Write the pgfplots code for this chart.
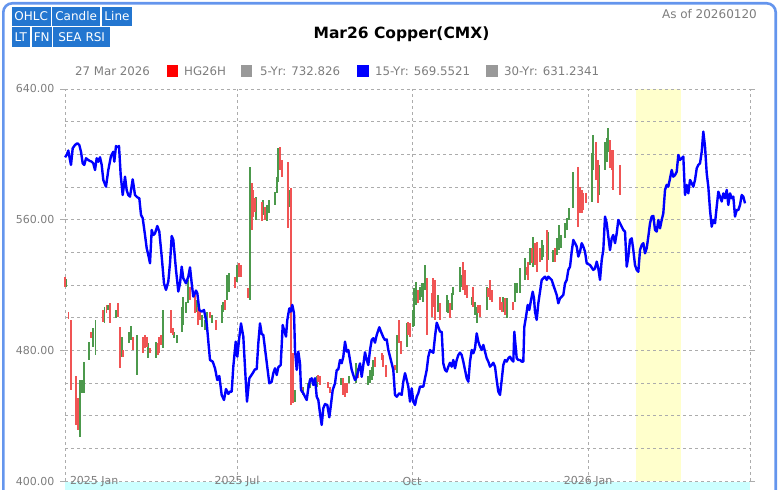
\documentclass[border=0pt]{standalone}
\usepackage{pgfplots}
\pgfplotsset{compat=1.18}
\usepackage{pgfplotstable}
\usepackage{fontspec}
\setmainfont{DejaVu Sans}
\definecolor{barred}{RGB}{240,84,84}
\definecolor{bargreen}{RGB}{76,153,76}
\definecolor{lineblue}{RGB}{0,0,255}
\definecolor{gridgray}{RGB}{172,172,172}
\definecolor{textgray}{RGB}{125,125,125}
\definecolor{bandyellow}{RGB}{255,255,204}
\definecolor{bandcyan}{RGB}{204,255,255}
\definecolor{frameblue}{RGB}{100,149,237}
\definecolor{btnblue}{RGB}{35,118,208}
\definecolor{sqgray}{RGB}{153,153,153}

\pgfplotstableread{
x l h
66.5 519.0 523.5
80 427.2 461.8
82 453.7 461.8
84 453.7 473.1
89.3 474 485
93.3 482.3 493.5
95.5 477 498.6
104.5 496.5 506.7
108 504.5 507.8
116 499.6 504.7
121.7 476.1 488.4
129.3 484.3 491.4
131 486.3 494.9
136.7 464.9 489.4
148.3 475.1 484.3
156 475.1 485.3
162.7 481.3 504.7
174.3 487.4 491.4
176.7 484.3 489.4
181.7 491.4 506.7
183.3 495.5 512.9
186 502.7 509.8
187.7 508.8 523.0
196.7 503.7 510.8
201.7 494.5 501.6
205 492.5 498.6
207.3 497.6 503.7
211.7 496.5 501.6
221.7 496.5 507.8
223.3 503.7 509.8
227.3 510.8 526.1
229.3 515.9 527.1
237.3 522.0 532.2
250 510.8 592.5
256 559.8 574.1
263.3 562.9 572.0
266.7 558.9 569.0
269.3 563.9 572.0
275 569.0 577.1
276.7 576.1 586.3
278.3 583.3 603.7
289.3 568.0 578.2
295 448.6 455.7
303.3 452.7 457.8
308.3 456.7 459.8
310 456.7 462.9
316.7 457.8 464.0
341 458.8 462.9
349.3 459.8 464.0
356 459.8 472.0
368.3 458.8 464.0
370 459.8 468.0
371.7 461.8 470.0
373.3 464.0 474.0
396.7 466.0 489.4
406.7 482.3 496.5
412.7 494.5 504.7
414.3 495 518.0
416 507.8 522.0
420 510.8 519.0
421.7 512.9 521.0
423.3 509.8 521.0
425 516.9 532.2
438.3 503.7 513.9
446.7 503.7 513.9
448.3 502.7 510.8
451.7 504.7 515.0
452.7 513.9 519.0
460 515.9 531.2
461.7 519.0 526.1
471.7 507.8 512.9
475 501.6 509.8
476.7 496.5 506.7
486.7 504.7 519.0
503.3 503.7 512.9
506.7 499.6 511.8
515 509.8 521.0
516.7 515.0 521.0
520 515.0 530.2
525 523.1 536.3
530 532.2 542.5
533.3 531.2 549.6
541.7 535.3 547.6
543.3 537.4 544.5
548.3 535.3 552.7
553.3 534.3 541.4
556.7 538.4 548.6
559.3 541.4 556.7
561 542.5 550.6
565 548.6 558.0
567.3 553.7 560.8
569.3 559.9 567.0
573.3 567.0 589.4
591.7 571.1 600.6
593.3 590.4 611.8
599.3 575.1 593.5
605 590.4 607.8
606.7 595.5 609.8
608.3 601.6 616.0
}\greenbars

\pgfplotstableread{
x l h
65 518.8 524.9
68.5 499.0 503.7
70.7 455.7 498.6
76.3 434.3 464.0
78.3 431.2 450.6
91.2 487.4 491.4
102.7 497.6 504.7
106.5 502.7 507.8
110 496.5 508.8
117.7 500.6 508.8
119.7 469.0 494.4
123.3 476.1 480.2
133.3 480.2 488.4
142.7 478.2 488.4
145 481.3 489.4
146.7 482.3 488.4
150 478.2 481.3
157.7 477.1 484.3
159.3 478.2 488.4
161 483.3 489.4
171 490.4 504.7
172.7 489.4 493.5
190 510.8 519.0
195 502.7 515.9
198.3 495.5 506.7
200 498.6 504.7
210 499.6 503.7
216 492.5 498.6
225 504.7 510.8
235 518.0 525.1
239.3 525.1 533.3
241 525.1 532.2
248.3 511.8 518.0
251.7 553.7 582.3
253.3 561.9 578.2
255 564.9 573.1
261.7 558.9 571.1
265 559.8 568.0
280 590.4 604.7
281.7 586.3 596.5
287.7 554.7 595.5
290.7 446.5 579.2
292.7 447.6 478.2
301.7 453.7 457.8
318.3 460.8 464.9
320 458.8 464.0
328.3 456.7 460.8
330 453.7 457.8
343.3 452.7 462.9
345 451.6 459.8
346.7 453.7 459.8
358.3 462.9 469.0
375 470.0 476.1
381.7 474.1 478.2
383.3 470.0 477.1
386 463.9 471.0
395 468.0 471.0
399.3 484.3 498.6
401.3 478.0 486.0
408.3 489.4 497.6
410 488.4 496.5
418.3 508.8 516.9
426.7 489.4 524.1
431.7 500.6 515.0
433.3 506.7 524.1
435 498.6 523.1
440 498.6 508.8
450 499.6 508.8
463.3 517.0 534.3
465 513.9 529.2
466.7 511.8 520.0
473.3 506.7 519.0
478.3 502.7 507.8
480 500.6 507.8
488.3 512.9 518.0
490 510.8 523.1
491.7 509.8 516.9
500 504.7 512.9
501.7 503.7 509.8
505 501.6 511.8
513.3 504.7 509.8
526.7 526.1 531.2
528.3 523.1 534.3
531.7 533.3 542.5
535 532.2 545.6
536.7 528.1 546.5
540 534.3 542.5
546.7 528.1 553.7
555 534.3 542.5
578.3 555.7 592.5
580 563.9 580.2
581.7 563.9 578.2
583.3 566.0 576.1
586 570.0 576.1
596 584.3 607.8
597.7 570.0 596.5
610 591.4 608.8
611.7 590.4 602.7
613.3 578.2 602.7
620 575.1 593.5
}\redbars

\pgfplotstableread{
x y
65 598.2
66.7 599.6
68.3 602.3
70 596.5
71 593.5
72.7 603.7
75 605.7
77.3 606.8
79.3 605.7
81 601.6
82.7 594.5
84.3 593.5
86 597.6
88.3 596.5
90 595.9
91.7 595.5
93.3 594.5
95 590.4
96.7 597.6
98.3 595.5
100 598.2
101.7 593.5
103.3 584.3
106 580.2
108.3 590.4
111 599.0
113.3 601.6
114.3 595.5
116 605.1
117.3 604.3
119 605.1
120.7 587.3
122.7 575.1
125 586.3
126.7 578.0
128.3 575.1
130 574.1
132.7 584.7
135 575.1
137.3 573.7
139.3 573.1
141 562.9
142.7 560.9
145 550.6
146.7 542.5
148.3 538.4
150 533.3
151.7 553.7
153.3 550.6
155 551.6
157.3 556.1
159.3 552.7
161.7 537.4
164 521.0
166 517.0
168.3 522.1
170 533.3
171.7 550.0
173.3 547.6
176 529.2
178.3 516.0
180 521.0
181.7 531.2
183.3 524.1
186 521.0
188.3 525.1
190 530.8
191.7 521.0
193.3 512.9
196 516.6
197.3 515.0
199.3 504.7
201.7 503.7
204 504.7
206.7 496.5
210 474.1
212.7 473.1
215 469.0
217.3 461.8
219.3 464.3
221.7 452.6
224 449.6
226 456.3
228.3 453.3
230 454.7
231.7 454.7
233.3 470.0
235.7 485.3
237.3 476.1
239 486.3
241 496.5
243.3 488.4
245.7 461.8
247 448.6
249.3 462.9
252.7 466.0
255 468.4
256.7 468.4
258.3 484.3
260 496.5
261.7 490.0
263.3 489.4
266 476.1
269.3 459.8
271.7 460.8
273.3 466.0
275 469.0
276.7 464.9
278.3 469.6
280.7 471.0
282.7 495.5
284 492.5
286 488.4
287.3 498.6
289.3 505.7
290.7 503.7
292.3 507.8
294 502.7
295 480.2
296.7 468.0
298.3 479.2
300 472.0
301 455.7
303.3 453.7
305 451.6
306.7 449.6
308.3 456.7
310 461.8
311.7 462.9
313.3 458.8
315 462.9
316.7 451.6
318.3 449.6
320 441.4
321.7 434.3
323.3 444.5
325 447.1
327.3 446.5
329.3 439.0
330.7 445.5
332.7 455.7
335 459.8
336.7 467.9
338.3 468.4
340 474.1
341.7 472.1
343.3 476.1
345 485.3
346.7 479.2
348.3 480.2
350 474.1
351.7 468.0
353.3 464.9
355 461.8
356.7 463.5
358.3 468.0
360 472.0
361.7 463.8
363.3 471.0
365 478.8
366.7 474.1
368.3 471.0
370 480.2
371.7 486.3
373.3 487.4
375 484.7
376.7 489.4
379.3 494.1
381 491.4
383.3 488.0
385 486.3
386.7 486.7
388.3 480.2
390 476.1
391.7 472.0
393.3 468.0
395 452.7
396.7 451.6
399.3 453.7
401.7 452.7
403.3 460.8
405 466.0
406.7 461.8
408.3 457.8
410 448.6
411.7 456.7
413.3 448.6
415 446.5
416.7 451.6
418.3 453.7
420 457.8
423.3 457.8
425 462.9
426.7 468.0
428.3 476.1
430 480.2
431.7 479.2
433.3 478.5
435 488.4
436.7 496.9
438.3 494.4
440 491.4
441.7 491.4
443.3 472.0
445 468.0
446.7 467.0
448.3 470.0
450 472.4
451.7 470.0
453.3 474.1
455 469.0
456.7 474.1
458.3 477.1
460 478.6
461.7 477.1
463.3 473.1
465 468.0
466.7 462.9
468.3 460.8
470 473.1
471.7 480.2
473.3 478.2
475 481.3
476.7 490.4
478.3 485.3
480 482.3
481.7 480.2
483.3 483.3
485 479.2
486.7 475.1
488.3 473.1
490 470.0
491.7 471.0
493.3 472.4
495 470.0
496.7 461.8
498.3 454.7
500 452.7
501.7 461.8
503.3 471.0
505 474.1
506.7 473.1
508.3 475.1
510 476.1
511.7 474.1
513.3 473.1
514.3 491.4
516.7 475.1
518.3 474.1
520 474.1
521.7 473.1
523.3 473.1
524.3 494.4
526 500.6
527.7 507.8
529.3 504.7
531 510.8
532.7 515.9
534 511.8
535 503.6
536.7 498.6
538.3 508.8
540 515.9
541.7 523.1
545 525.1
546.7 523.1
548.3 525.1
551.7 523.1
553.3 520.0
556.7 513.9
558.3 508.8
560 511.8
563.3 513.9
565 521.0
566.7 523.1
568.3 529.2
570 531.2
571.7 540.4
573.3 547.6
575 545.6
576.7 543.5
578.3 537.4
580 540.4
581.7 545.6
583.3 543.5
585 540.4
586.7 533.3
590 532.2
593.3 529.2
595 530.2
596.7 534.3
598.3 530.2
600 523.1
601.7 535.3
603.3 541.4
605 561.9
606.7 557.8
608.3 549.6
610 541.4
611.7 548.6
613.3 550.6
615 545.6
616.7 551.7
618.3 559.8
620 557.8
621.7 555.7
623.3 553.7
625 552.7
626.7 531.2
628.3 537.4
630 547.6
631.7 548.6
633.3 541.4
635 532.2
636.7 529.2
638.3 528.1
640 541.4
641.7 544.5
643.3 545.6
645 539.4
646.7 542.5
648.3 549.6
650 557.8
651.7 561.9
653.3 562.3
655 553.7
656.7 552.7
658.3 559.8
660 554.7
661.7 559.8
663.3 563.9
665 578.2
666.7 581.3
668.3 580.2
670 585.3
671.7 590.4
673.3 586.3
675 587.3
676.7 589.4
678.3 599.6
680 596.5
681.7 597.6
683.3 598.6
685 575.1
686.7 581.3
688.3 576.1
690 584.3
691.7 582.3
693.3 580.2
695 584.3
696.7 591.4
698.3 593.5
700 594.5
701.7 601.6
703.3 613.9
705 604.7
706.7 588.4
708.3 580.2
710 565.9
711.7 555.7
713.3 559.8
715 557.8
716.7 568.0
718.3 577.1
720 574.1
721.7 571.1
723.3 576.1
725 573.1
726.7 578.2
728.3 569.0
730 576.1
731.7 573.1
733.3 574.1
735 561.9
736.7 565.9
738.3 565.9
740 569.0
741.7 575.1
743.3 574.1
745 570.0
}\fifteenyr

\begin{document}
\begin{tikzpicture}[x=1bp,y=1bp]
\begin{axis}[
  at={(65bp,9bp)}, anchor=south west,
  scale only axis, width=685bp, height=392bp,
  xmin=65, xmax=750, ymin=400, ymax=640,
  clip=false, set layers,
  axis line style={draw=none},
  xtick={65,237,412,588},
  xticklabels={{\rlap{\hspace{5bp}2025 Jan}},2025 Jul,Oct,2026 Jan},
  extra x ticks={750}, extra x tick labels={},
  extra x tick style={grid=major},
  ytick={400,480,560,640},
  yticklabels={400.00,480.00,560.00,640.00},
  minor ytick={420,440,460,500,520,540,580,600,620},
  grid=both,
  grid style={draw=gridgray, line width=0.9bp, dash pattern=on 3bp off 3bp},
  minor grid style={draw=gridgray, line width=0.9bp, dash pattern=on 3bp off 3bp},
  tick align=outside,
  major tick length=5bp, minor tick length=0pt,
  xtick style={draw=none},
  ytick style={draw=gridgray, line width=0.9bp},
  ticklabel style={font=\fontsize{11bp}{13bp}\selectfont, text=textgray},
  xticklabel style={anchor=center, yshift=4.5bp},
  yticklabel style={anchor=east, xshift=-2bp},
]
\addplot[on layer=axis background, fill=bandyellow, draw=none, forget plot]
  coordinates {(636,400) (636,640) (681,640) (681,400)} -- cycle;
\addplot[on layer=axis background, fill=bandcyan, draw=none, forget plot]
  coordinates {(65,394.3) (65,399.4) (750,399.4) (750,394.3)} -- cycle;
\addplot[draw=none, no marks, forget plot,
  error bars/.cd, y dir=both, y explicit, error mark=none,
  error bar style={draw=bargreen, line width=1.8bp}]
  table[x=x, y expr={(\thisrow{l}+\thisrow{h})/2}, y error expr={(\thisrow{h}-\thisrow{l})/2}] {\greenbars};
\addplot[draw=none, no marks, forget plot,
  error bars/.cd, y dir=both, y explicit, error mark=none,
  error bar style={draw=barred, line width=1.8bp}]
  table[x=x, y expr={(\thisrow{l}+\thisrow{h})/2}, y error expr={(\thisrow{h}-\thisrow{l})/2}] {\redbars};
\addplot[draw=lineblue, line width=2.4bp, mark=none, line join=round] table[x=x, y=y] {\fifteenyr};
\end{axis}

% buttons
\begin{scope}[every node/.style={text=white, inner sep=0pt, font=\fontsize{12bp}{14bp}\selectfont}]
\fill[btnblue] (11.7,464) rectangle (50.7,483);
\node at (31.2,473.5) {OHLC};
\fill[btnblue] (52.3,464) rectangle (100,483);
\node at (76.15,473.5) {Candle};
\fill[btnblue] (101.7,464) rectangle (132.3,483);
\node at (117,473.5) {Line};
\fill[btnblue] (11.7,443.3) rectangle (30,462.5);
\node at (20.85,452.9) {LT};
\fill[btnblue] (31.7,443.3) rectangle (51.7,462.5);
\node at (41.7,452.9) {FN};
\fill[btnblue] (53.3,443.3) rectangle (110,462.5);
\node at (81.65,452.9) {SEA RSI};
\end{scope}

\node[inner sep=0pt, font=\bfseries\fontsize{15.5bp}{18bp}\selectfont] at (401.5,456) {Mar26 Copper(CMX)};
\node[inner sep=0pt, anchor=east, text=textgray, font=\fontsize{12bp}{14bp}\selectfont] at (757,476) {As of 20260120};

% legend
\begin{scope}[every node/.style={inner sep=0pt, anchor=west, text=textgray, font=\fontsize{11.8bp}{14bp}\selectfont}]
\node at (75,419) {27 Mar 2026};
\fill[red] (166.7,413.3) rectangle (178.3,425);
\node at (184,419) {HG26H};
\fill[sqgray] (240.7,413.3) rectangle (252.3,425);
\node at (260,419) {5-Yr: 732.826};
\fill[lineblue] (357.3,413.3) rectangle (369,425);
\node at (375,419) {15-Yr: 569.5521};
\fill[sqgray] (486,413.3) rectangle (497.7,425);
\node at (504,419) {30-Yr: 631.2341};
\end{scope}

\draw[frameblue, line width=2.6bp, rounded corners=9bp] (3.3,-30) rectangle (775.7,486.7);
\pgfresetboundingbox
\path[use as bounding box] (0,0) rectangle (780,490);
\end{tikzpicture}
\end{document}
